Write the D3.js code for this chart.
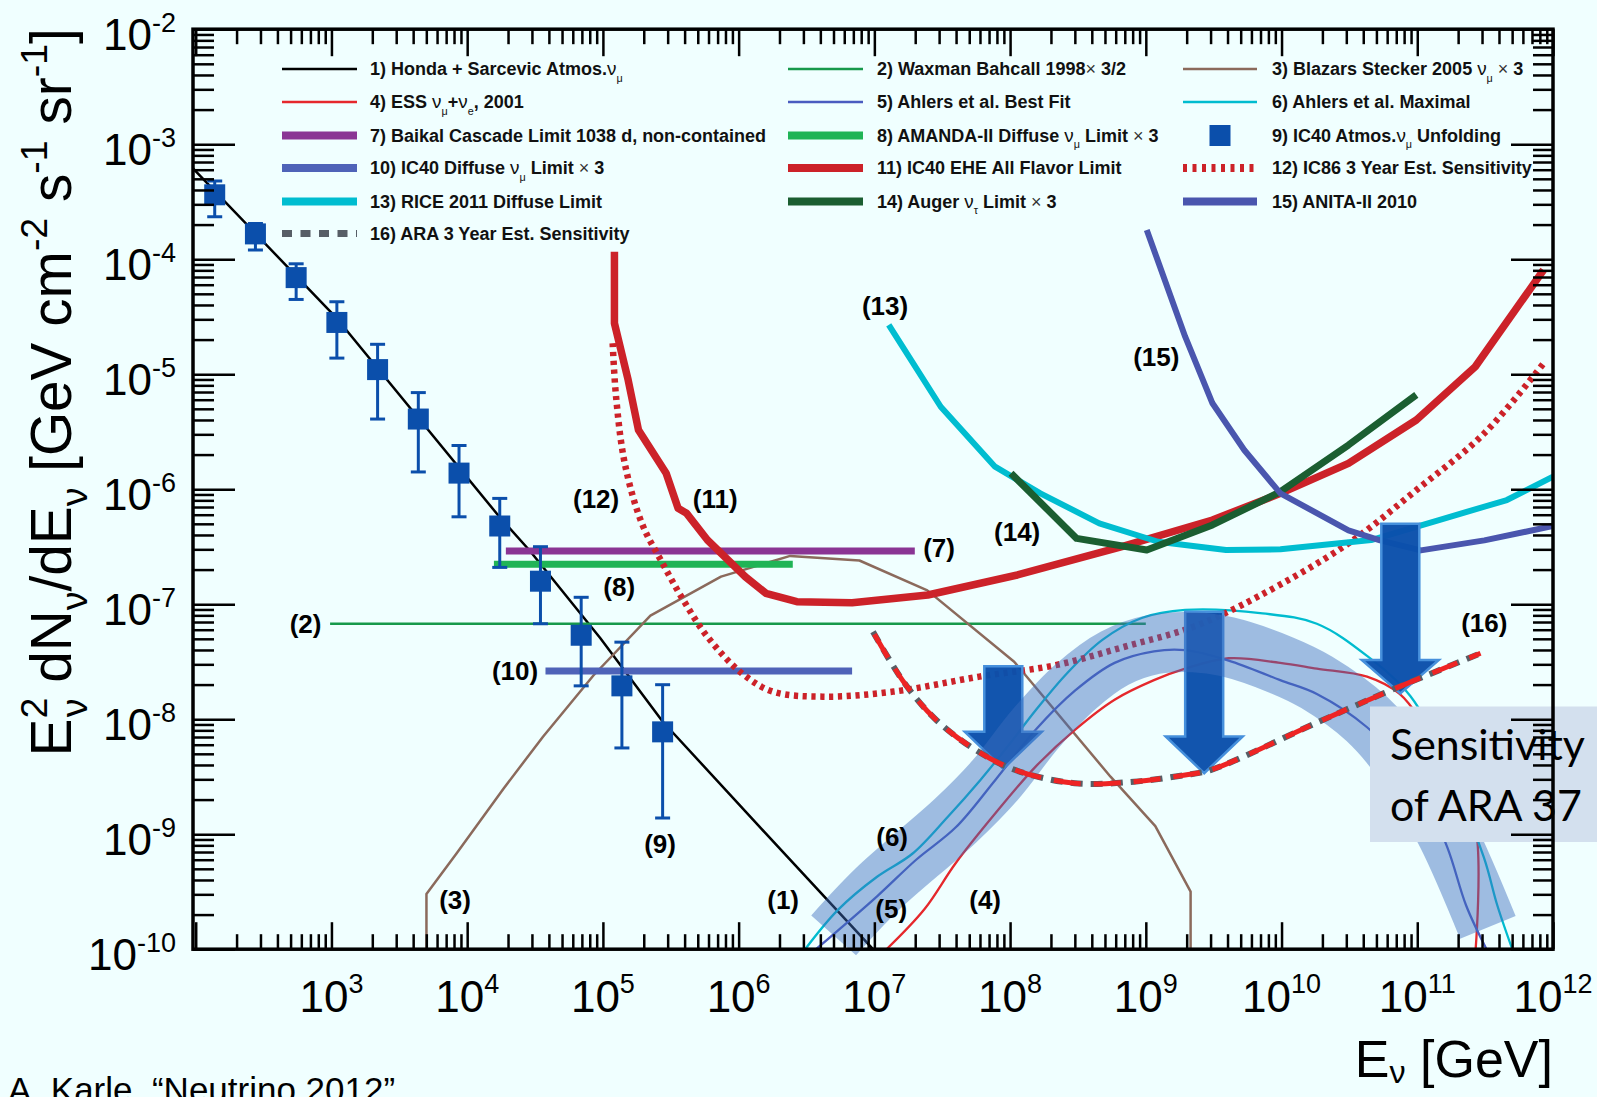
<!DOCTYPE html>
<html><head><meta charset="utf-8">
<script src="https://cdnjs.cloudflare.com/ajax/libs/d3/7.8.5/d3.min.js"></script>
<style>
html,body{margin:0;padding:0;background:#f0ffff;}
svg{display:block;}
</style></head>
<body>
<svg id="chart" width="1597" height="1097"></svg>
<script>
// ---------------- DATA ----------------
// every point: [log10(E / GeV), log10(E^2 dN/dE / GeV cm^-2 s^-1 sr^-1)]
const hondaAtmos   = [[1.98,-3.21],[3.04,-4.515],[4.24,-6.244],[4.46,-6.533],[4.98,-7.294],[5.44,-8.02],[6.15,-8.93],[6.99,-10.0]];
const waxmanBahcall= [[2.99,-7.17],[9.0,-7.17]];
const blazarStecker= [[3.70,-10],[3.70,-9.52],[3.92,-9.17],[4.27,-8.60],[4.56,-8.15],[4.93,-7.62],[5.35,-7.10],[5.87,-6.76],[6.38,-6.58],[6.89,-6.62],[7.39,-6.88],[8.03,-7.50],[8.74,-8.50],[9.07,-8.93],[9.33,-9.50],[9.33,-10]];
const essFlux      = [[7.09,-10],[7.37,-9.65],[7.60,-9.25],[7.89,-8.82],[8.19,-8.41],[8.48,-8.09],[8.77,-7.83],[9.06,-7.66],[9.29,-7.56],[9.61,-7.47],[9.99,-7.51],[10.26,-7.56],[10.63,-7.63],[10.87,-7.78],[11.05,-8.05],[11.25,-8.45],[11.43,-8.95],[11.43,-10]];
const ahlersBest   = [[6.57,-10],[7.02,-9.54],[7.31,-9.22],[7.60,-8.94],[7.89,-8.53],[8.19,-8.09],[8.48,-7.75],[8.77,-7.51],[9.06,-7.41],[9.29,-7.40],[9.61,-7.49],[9.99,-7.66],[10.26,-7.78],[10.63,-8.07],[11.0,-8.55],[11.22,-9.11],[11.36,-9.62],[11.51,-10]];
const ahlersMax    = [[6.49,-10],[6.73,-9.66],[7.02,-9.37],[7.28,-9.17],[7.54,-8.85],[7.78,-8.53],[7.98,-8.24],[8.19,-7.92],[8.42,-7.60],[8.68,-7.31],[8.97,-7.12],[9.29,-7.05],[9.86,-7.08],[10.26,-7.17],[10.63,-7.45],[10.95,-7.80],[11.2,-8.35],[11.49,-9.20],[11.59,-9.62],[11.70,-10]];
const baikal       = [[4.285,-6.537],[7.298,-6.537]];
const amanda       = [[4.197,-6.653],[6.399,-6.653]];
const ic40E        = [2.14,2.44,2.74,3.04,3.34,3.64,3.94,4.24,4.54,4.84,5.14,5.44];
const ic40F        = [-3.44,-3.78,-4.16,-4.55,-4.96,-5.39,-5.86,-6.32,-6.80,-7.27,-7.71,-8.11];
const ic40Lo       = [-3.63,-3.92,-4.35,-4.86,-5.39,-5.85,-6.24,-6.68,-7.17,-7.71,-8.25,-8.86];
const ic40Hi       = [-3.32,-3.69,-4.04,-4.37,-4.74,-5.16,-5.62,-6.08,-6.50,-6.94,-7.33,-7.70];
const ic40Diffuse  = [[4.577,-7.581],[6.836,-7.581]];
const ic40EHE      = [[5.085,-3.935],[5.085,-4.557],[5.186,-5.05],[5.262,-5.485],[5.466,-5.862],[5.554,-6.166],[5.617,-6.21],[5.77,-6.442],[5.922,-6.616],[6.049,-6.761],[6.201,-6.905],[6.429,-6.978],[6.836,-6.987],[7.394,-6.92],[8.054,-6.746],[8.824,-6.50],[9.491,-6.268],[9.992,-6.036],[10.493,-5.775],[10.993,-5.398],[11.427,-4.935],[11.93,-4.094]];
const ic86Sens     = [[5.072,-4.731],[5.097,-5.196],[5.161,-5.775],[5.287,-6.297],[5.44,-6.645],[5.592,-6.963],[5.77,-7.283],[6.023,-7.60],[6.252,-7.76],[6.633,-7.804],[7.14,-7.76],[7.774,-7.63],[8.336,-7.53],[8.844,-7.37],[9.351,-7.196],[9.825,-6.935],[10.493,-6.471],[10.993,-6.008],[11.494,-5.514],[11.93,-4.906]];
const rice2011     = [[7.106,-4.572],[7.489,-5.283],[7.889,-5.804],[8.223,-6.036],[8.657,-6.297],[9.091,-6.457],[9.591,-6.529],[9.992,-6.523],[10.66,-6.442],[11.16,-6.268],[11.66,-6.094],[12.0,-5.89]];
const augerTau     = [[8.007,-5.862],[8.49,-6.428],[9.007,-6.529],[9.491,-6.311],[9.992,-6.022],[10.493,-5.616],[10.993,-5.18]];
const anita2010    = [[9.007,-3.746],[9.29,-4.674],[9.491,-5.253],[9.725,-5.659],[9.992,-6.036],[10.493,-6.358],[10.726,-6.445],[11.026,-6.532],[11.494,-6.445],[12.0,-6.32]];
const ara3yr       = [[6.99,-7.24],[7.223,-7.688],[7.456,-8.007],[7.747,-8.268],[8.039,-8.442],[8.476,-8.557],[8.913,-8.543],[9.29,-8.485],[9.477,-8.442],[10.26,-8.03],[10.752,-7.775],[11.466,-7.427]];
const cosmoBand    = [[6.70,-9.88],[7.02,-9.48],[7.60,-8.88],[7.89,-8.53],[8.19,-8.08],[8.48,-7.72],[8.77,-7.47],[9.06,-7.35],[9.35,-7.33],[9.60,-7.37],[10.0,-7.53],[10.26,-7.68],[10.63,-8.0],[10.95,-8.45],[11.22,-9.0],[11.52,-9.81]];
// ARA-37 arrows
const arrowE     = [7.95, 9.43, 10.875];
const arrowTop   = [-7.54, -7.065, -6.30];
const arrowNeck  = [-8.11, -8.15, -7.485];
const arrowTip   = [-8.43, -8.47, -7.775];
// tick labels
const xTickExps = [3,4,5,6,7,8,9,10,11,12];
const yTickExps = [-2,-3,-4,-5,-6,-7,-8,-9,-10];
// curve labels
const curveLabels = ["(1)","(2)","(3)","(4)","(5)","(6)","(7)","(8)","(9)","(10)","(11)","(12)","(13)","(14)","(15)","(16)"];
const curveLabelE = [6.328,2.809,3.911,7.816,7.124,7.131,7.477,5.12,5.421,4.353,5.827,4.95,7.079,8.052,9.077,11.494];
const curveLabelF = [-9.572,-7.172,-9.572,-9.572,-9.65,-9.024,-6.511,-6.85,-9.085,-7.581,-6.085,-6.085,-4.403,-6.37,-4.846,-7.163];
// legend entries: [text, kind]
const legendItems = [
 [["1) Honda + Sarcevic Atmos."],["ν","g"],["μ","sub"]],
 [["2) Waxman Bahcall 1998"],["×","x"],[" 3/2"]],
 [["3) Blazars Stecker 2005 "],["ν","g"],["μ","sub"],[" ×","x"],[" 3"]],
 [["4) ESS "],["ν","g"],["μ","sub"],["+"],["ν","g"],["e","sub"],[", 2001"]],
 [["5) Ahlers et al. Best Fit"]],
 [["6) Ahlers et al. Maximal"]],
 [["7) Baikal Cascade Limit 1038 d, non-contained"]],
 [["8) AMANDA-II Diffuse "],["ν","g"],["μ","sub"],[" Limit "],["×","x"],[" 3"]],
 [["9) IC40 Atmos."],["ν","g"],["μ","sub"],[" Unfolding"]],
 [["10) IC40 Diffuse "],["ν","g"],["μ","sub"],["  Limit "],["×","x"],[" 3"]],
 [["11) IC40 EHE All Flavor Limit"]],
 [["12) IC86 3 Year Est. Sensitivity"]],
 [["13) RICE 2011 Diffuse Limit"]],
 [["14) Auger "],["ν","g"],["τ","sub"],[" Limit "],["×","x"],[" 3"]],
 [["15) ANITA-II 2010"]],
 [["16) ARA 3 Year Est. Sensitivity"]]
];

// ---------------- SETUP ----------------
const W=1597,H=1097;
const X0=193,X1=1553,Y0=29.2,Y1=949.2;
const FONT="'Liberation Sans', Arial, Helvetica, sans-serif";
const svg=d3.select('#chart');
svg.append('rect').attr('width',W).attr('height',H).attr('fill','#f0ffff');

const x=d3.scaleLog().domain([Math.pow(10,1.98),1e12]).range([X0,X1]);
const y=d3.scaleLog().domain([1e-10,1e-2]).range([Y1,Y0]);
const px=d=>x(Math.pow(10,d[0])), py=d=>y(Math.pow(10,d[1]));
const lineLin=d3.line().x(px).y(py);
const lineSmooth=d3.line().x(px).y(py).curve(d3.curveCatmullRom.alpha(0.5));

svg.append('defs').append('clipPath').attr('id','pc').append('rect')
  .attr('x',X0).attr('y',Y0).attr('width',X1-X0).attr('height',Y1-Y0);

const C={black:'#000000',wb:'#17994b',brown:'#8b6a5c',ess:'#e5282c',ahB:'#4a5cc0',ahM:'#00bccf',
  baikal:'#8a3594',amanda:'#20b456',sq:'#0b4fab',ic40d:'#4f63b8',ehe:'#cc2229',ic86:'#cc2229',
  rice:'#00bdd0',auger:'#1b5e31',anita:'#4a56ae',araG:'#575e66',araR:'#ee2424'};

const series=[
 {d:hondaAtmos,c:C.black,w:2.5,s:0},
 {d:waxmanBahcall,c:C.wb,w:2.5,s:0},
 {d:blazarStecker,c:C.brown,w:2.5,s:0},
 {d:essFlux,c:C.ess,w:2.3,s:1},
 {d:ahlersBest,c:C.ahB,w:2.3,s:1},
 {d:ahlersMax,c:C.ahM,w:2.3,s:1},
 {d:baikal,c:C.baikal,w:7,s:0},
 {d:amanda,c:C.amanda,w:7,s:0},
 {d:ic40Diffuse,c:C.ic40d,w:7,s:0},
 {d:ic40EHE,c:C.ehe,w:7.5,s:0},
 {d:ic86Sens,c:C.ic86,w:6.5,s:1,dash:'4.2 4.6'},
 {d:rice2011,c:C.rice,w:6,s:0},
 {d:augerTau,c:C.auger,w:7,s:0},
 {d:anita2010,c:C.anita,w:6,s:0}
];
const gL=svg.append('g').attr('clip-path','url(#pc)');
series.forEach(o=>{
  gL.append('path').attr('d',(o.s?lineSmooth:lineLin)(o.d)).attr('fill','none')
    .attr('stroke',o.c).attr('stroke-width',o.w).attr('stroke-dasharray',o.dash||null)
    .attr('stroke-linejoin','round');
});
// IC40 unfolding points
const pts=ic40E.map((e,i)=>({e,f:ic40F[i],lo:ic40Lo[i],hi:ic40Hi[i]}));
const gP=gL.append('g');
gP.selectAll('line.eb').data(pts).join('line').attr('class','eb')
  .attr('x1',d=>x(10**d.e)).attr('x2',d=>x(10**d.e)).attr('y1',d=>y(10**d.lo)).attr('y2',d=>y(10**d.hi))
  .attr('stroke',C.sq).attr('stroke-width',3);
['lo','hi'].forEach(k=>{
  gP.selectAll('line.c'+k).data(pts).join('line').attr('class','c'+k)
    .attr('x1',d=>x(10**d.e)-7.5).attr('x2',d=>x(10**d.e)+7.5).attr('y1',d=>y(10**d[k])).attr('y2',d=>y(10**d[k]))
    .attr('stroke',C.sq).attr('stroke-width',3);
});
gP.selectAll('rect').data(pts).join('rect')
  .attr('x',d=>x(10**d.e)-10.5).attr('y',d=>y(10**d.f)-10.5).attr('width',21).attr('height',21).attr('fill',C.sq);

// Arrows
const gA=svg.append('g');
arrowE.forEach((e,i)=>{
  const cx=x(10**e), yt=y(10**arrowTop[i]), yn=y(10**arrowNeck[i]), yp=y(10**arrowTip[i]);
  const bw=19, hw=38.5;
  const p=d3.path();
  p.moveTo(cx-bw,yt); p.lineTo(cx+bw,yt); p.lineTo(cx+bw,yn); p.lineTo(cx+hw,yn);
  p.lineTo(cx,yp); p.lineTo(cx-hw,yn); p.lineTo(cx-bw,yn); p.closePath();
  gA.append('path').attr('d',p.toString()).attr('fill','#0a4fab').attr('fill-opacity',0.97)
    .attr('stroke','#4690dc').attr('stroke-width',2.5).attr('stroke-linejoin','miter');
});
// translucent band
svg.append('path').attr('d',lineSmooth(cosmoBand)).attr('fill','none')
  .attr('stroke','#3c6ebe').attr('stroke-opacity',0.46).attr('stroke-width',60).attr('stroke-linecap','butt');
// ARA dashed line
const gAra=svg.append('g').attr('clip-path','url(#pc)');
gAra.append('path').attr('d',lineSmooth(ara3yr)).attr('fill','none').attr('stroke',C.araG)
  .attr('stroke-width',6).attr('stroke-dasharray','12 8');
gAra.append('path').attr('d',lineSmooth(ara3yr)).attr('fill','none').attr('stroke',C.araR)
  .attr('stroke-width',5).attr('stroke-dasharray','27 13').attr('stroke-dashoffset',-3);

// Sensitivity box
svg.append('rect').attr('x',1370).attr('y',706.5).attr('width',227).attr('height',135.5).attr('fill','#d3e0ee');
const boxT1=svg.append('text').attr('x',1390).attr('y',760).attr('font-family',"Lato, 'Open Sans', sans-serif").attr('font-size',42).attr('fill','#000').text('Sensitivity');
const boxT2=svg.append('text').attr('x',1390).attr('y',821).attr('font-family',"Lato, 'Open Sans', sans-serif").attr('font-size',42).attr('fill','#000').text('of ARA 37');
{ const L=boxT1.node().getComputedTextLength(); const fs=42*195/L; boxT1.attr('font-size',fs); boxT2.attr('font-size',fs); }

// curve labels
svg.append('g').selectAll('text').data(curveLabels).join('text')
  .attr('x',(d,i)=>x(10**curveLabelE[i])).attr('y',(d,i)=>y(10**curveLabelF[i]))
  .attr('dy','0.36em').attr('text-anchor','middle').attr('font-family',FONT).attr('font-weight','bold')
  .attr('font-size',26).attr('fill','#000').text(d=>d);

// ---------------- AXES ----------------
const xMaj=d3.range(2,13).map(k=>10**k).filter(v=>v>=x.domain()[0]);
const xMin=[]; for(let k=1;k<12;k++) for(let m=2;m<10;m++){const v=m*10**k; if(v>x.domain()[0]&&v<1e12) xMin.push(v);}
const yMaj=d3.range(-10,-1).map(k=>10**k);
const yMin=[]; for(let k=-10;k<-2;k++) for(let m=2;m<10;m++) yMin.push(m*10**k);
function styleAxis(g){ g.select('.domain').remove(); g.selectAll('.tick line').attr('stroke','#000').attr('stroke-width',2.5); g.selectAll('.tick text').remove(); }
svg.append('g').attr('transform',`translate(0,${Y1})`).call(d3.axisBottom(x).tickValues(xMin).tickSizeInner(-15).tickSizeOuter(0).tickFormat('')).call(styleAxis);
svg.append('g').attr('transform',`translate(0,${Y1})`).call(d3.axisBottom(x).tickValues(xMaj).tickSizeInner(-27).tickSizeOuter(0).tickFormat('')).call(styleAxis);
svg.append('g').attr('transform',`translate(0,${Y0})`).call(d3.axisTop(x).tickValues(xMin).tickSizeInner(-15).tickSizeOuter(0).tickFormat('')).call(styleAxis);
svg.append('g').attr('transform',`translate(0,${Y0})`).call(d3.axisTop(x).tickValues(xMaj).tickSizeInner(-27).tickSizeOuter(0).tickFormat('')).call(styleAxis);
svg.append('g').attr('transform',`translate(${X0},0)`).call(d3.axisLeft(y).tickValues(yMin).tickSizeInner(-21).tickSizeOuter(0).tickFormat('')).call(styleAxis);
svg.append('g').attr('transform',`translate(${X0},0)`).call(d3.axisLeft(y).tickValues(yMaj).tickSizeInner(-42).tickSizeOuter(0).tickFormat('')).call(styleAxis);
svg.append('g').attr('transform',`translate(${X1},0)`).call(d3.axisRight(y).tickValues(yMin).tickSizeInner(-20).tickSizeOuter(0).tickFormat('')).call(styleAxis);
svg.append('g').attr('transform',`translate(${X1},0)`).call(d3.axisRight(y).tickValues(yMaj).tickSizeInner(-42).tickSizeOuter(0).tickFormat('')).call(styleAxis);
svg.append('rect').attr('x',X0).attr('y',Y0).attr('width',X1-X0).attr('height',Y1-Y0)
  .attr('fill','none').attr('stroke','#000').attr('stroke-width',3.5);

// tick labels
xTickExps.forEach(e=>{
  const t=svg.append('text').attr('x',x(10**e)).attr('y',1011.5).attr('text-anchor','middle')
    .attr('font-family',FONT).attr('font-size',44).attr('fill','#000');
  t.append('tspan').text('10');
  t.append('tspan').attr('dy',-19).attr('font-size',27).text(e);
});
yTickExps.forEach(e=>{
  const t=svg.append('text').attr('x',176).attr('y',y(10**e)+21).attr('text-anchor','end')
    .attr('font-family',FONT).attr('font-size',44).attr('fill','#000');
  t.append('tspan').text('10');
  t.append('tspan').attr('dy',-18).attr('font-size',27).text(e);
});

// rich text helper
function rich(t,segs,F,cfg){
  cfg=Object.assign({supUp:0.42,subDown:0.28,supFs:0.62,subFs:0.62,bold:false},cfg||{});
  let cur=0;
  segs.forEach(([txt,kind,dx])=>{
    let off=0,fs=F,wt=cfg.bold?'bold':'normal',fill=null;
    if(kind==='sup'){off=-cfg.supUp*F;fs=cfg.supFs*F;}
    else if(kind==='sub'){off=cfg.subDown*F;fs=cfg.subFs*F;wt='normal';}
    else if(kind==='g'){wt='normal';fs=F*1.05;}
    else if(kind==='x'){wt='normal';fill='#333';}
    const ts=t.append('tspan').attr('font-size',fs).attr('font-weight',wt).text(txt);
    if(off!==cur){ts.attr('dy',off-cur);cur=off;}
    if(dx) ts.attr('dx',dx*F);
    if(fill) ts.attr('fill',fill);
  });
}
// Y axis title
const yTitleSegs=[["E"],["2","sup"],["ν","sub",-0.345],[" dN"],["ν","sub"],["/dE"],["ν","sub"],[" [GeV cm"],["-2","sup"],[" s"],["-1","sup"],[" sr"],["-1","sup"],["]"]];
const yT=svg.append('text').attr('transform',`translate(71,${Y0-1}) rotate(-90)`).attr('text-anchor','end')
  .attr('font-family',FONT).attr('fill','#000');
rich(yT,yTitleSegs,54,{supFs:0.66,subFs:0.66});
{ const L=yT.node().getComputedTextLength(); const F=54*748/L; yT.selectAll('*').remove(); rich(yT,yTitleSegs,F,{supFs:0.66,subFs:0.66}); }
// X axis title
const xT=svg.append('text').attr('x',X1).attr('y',1077).attr('text-anchor','end').attr('font-family',FONT).attr('fill','#000');
rich(xT,[["E"],["ν","sub"],[" [GeV]"]],52,{subFs:0.62,subDown:0.12});

// credit (cut at bottom edge, as in the original slide)
svg.append('text').attr('x',8).attr('y',1102).attr('font-family',FONT).attr('font-size',35).attr('fill','#000')
  .text('A. Karle, \u201CNeutrino 2012\u201D');

// ---------------- LEGEND ----------------
const legCols=[{l0:282,l1:357,t:370},{l0:788,l1:863,t:877},{l0:1183,l1:1257,t:1272}];
const legRows=[69,102,135.5,168,201.5,233.5];
const legSym=[
 {c:C.black,w:2.5},{c:C.wb,w:2.5},{c:C.brown,w:2.5},
 {c:C.ess,w:2.5},{c:C.ahB,w:2.5},{c:C.ahM,w:2.5},
 {c:C.baikal,w:8},{c:C.amanda,w:8},{sq:1},
 {c:C.ic40d,w:8},{c:C.ehe,w:8},{c:C.ic86,w:8,dash:'4 5.5'},
 {c:C.rice,w:8},{c:C.auger,w:8},{c:C.anita,w:8},
 {c:C.araG,w:7,dash:'10 8.5'}
];
const gLeg=svg.append('g');
legendItems.forEach((segs,i)=>{
  const col=legCols[i%3], ry=legRows[Math.floor(i/3)], s=legSym[i];
  if(s.sq){ gLeg.append('rect').attr('x',(col.l0+col.l1)/2-10.5).attr('y',ry-10.5).attr('width',21).attr('height',21).attr('fill',C.sq); }
  else gLeg.append('line').attr('x1',col.l0).attr('x2',col.l1).attr('y1',ry).attr('y2',ry)
    .attr('stroke',s.c).attr('stroke-width',s.w).attr('stroke-dasharray',s.dash||null);
  const t=gLeg.append('text').attr('x',col.t).attr('y',ry+6.4).attr('font-family',FONT).attr('fill','#111');
  rich(t,segs,18,{bold:true,subDown:0.35,subFs:0.6});
});
</script>
</body></html>
